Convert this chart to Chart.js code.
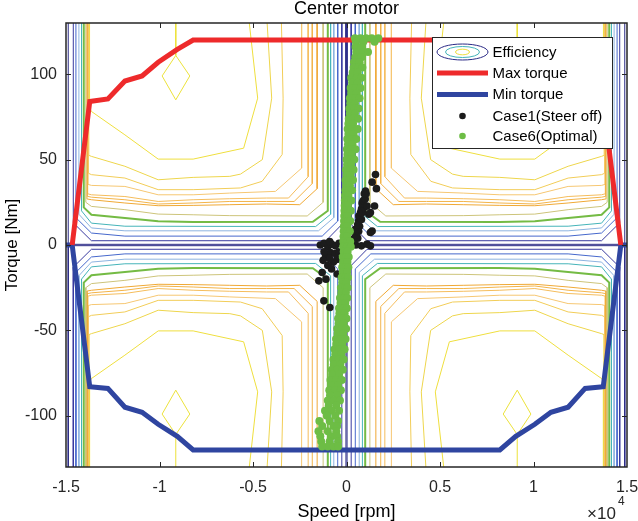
<!DOCTYPE html>
<html>
<head>
<meta charset="utf-8">
<title>Center motor</title>
<script src="https://cdn.jsdelivr.net/npm/chart.js@4.4.1/dist/chart.umd.min.js"></script>
<style>
  html, body { margin: 0; padding: 0; background: #fff; }
  canvas { display: block; }
</style>
</head>
<body>
<canvas id="motorChart" width="638" height="521"></canvas>
<script>
// axis ticks (speed in rpm, shown as x10^4)
const speedTicks = [-15000, -10000, -5000, 0, 5000, 10000, 15000];
const torqueTicks = [-100, -50, 0, 50, 100];

// torque envelope
const maxTorqueSpeed = [-14670, -13730, -12760, -11850, -10930, -10070, -9050, -8200, 8200, 9050, 10070, 10930, 11850, 12760, 13730, 14670];
const maxTorqueValue = [0, 84, 85.5, 96, 99, 107, 114.5, 120, 120, 114.5, 107, 99, 96, 85.5, 84, 0];
const minTorqueSpeed = [-15000, -14670, -13730, -12760, -11850, -10930, -10070, -9050, -8200, 8200, 9050, 10070, 10930, 11850, 12760, 13730, 14670, 15000];
const minTorqueValue = [0, 0, -83, -84, -95, -98, -105, -112, -120, -120, -112, -105, -98, -95, -84, -83, 0, 0];

// efficiency contours, upper-left quadrant [speed, torque]; the map is mirrored in the other quadrants
const effC0 = [[-30, 140], [-30, 0.4], [-14880, 0.4], [-14880, 140]];
const effC1 = [[-250, 140], [-250, 12], [-1100, 2.5], [-13640, 2.5], [-14610, 13], [-14610, 140]];
const effC2 = [[-470, 140], [-470, 14], [-1300, 5.2], [-11850, 5.2], [-13640, 7], [-14470, 16], [-14470, 140]];
const effC3 = [[-680, 140], [-680, 16], [-1500, 8.3], [-11850, 8.3], [-13640, 10], [-14310, 18], [-14310, 140]];
const effC4 = [[-850, 140], [-850, 18], [-1650, 10.8], [-11850, 11], [-13640, 12.8], [-14170, 20], [-14170, 140]];
const effC5 = [[-1000, 140], [-1000, 20], [-1800, 13.6], [-8200, 13.5], [-10070, 13.9], [-11850, 15.8], [-13640, 17.7], [-14050, 22], [-14050, 140]];
const effC6 = [[-1250, 140], [-1250, 25], [-2100, 17], [-6240, 17.2], [-8200, 17.7], [-10070, 18.1], [-11850, 20.7], [-13640, 22.6], [-13940, 25], [-13940, 140]];
const effC7 = [[-1570, 140], [-1570, 33], [-2500, 23.6], [-4280, 24], [-6240, 23.6], [-8200, 23.2], [-10070, 23], [-11850, 24.6], [-13640, 26.5], [-13880, 27], [-13880, 140]];
const effC8 = [[-1830, 140], [-1830, 36], [-2800, 25.5], [-4280, 25.5], [-6240, 25.5], [-8200, 24.6], [-10070, 24], [-11850, 26.5], [-13640, 28], [-13860, 28.5], [-13860, 140]];
const effC9 = [[-2050, 140], [-2050, 40], [-3100, 27.5], [-4280, 27.5], [-6240, 27.1], [-8200, 26.5], [-10070, 25.5], [-11850, 28.4], [-13640, 29.4], [-13840, 30], [-13840, 140]];
const effC10 = [[-2400, 140], [-2400, 45], [-3800, 31.4], [-6240, 30.4], [-8200, 29.4], [-10070, 29.4], [-11850, 34.3], [-13640, 34.9], [-13820, 35.5], [-13820, 140]];
const effC11 = [[-3500, 140], [-3390, 86], [-3440, 53], [-4510, 37.3], [-5670, 33.4], [-8200, 32.4], [-10070, 32.4], [-11850, 39.2], [-13640, 41.2], [-13800, 42], [-13800, 140]];
const effC12 = [[-4300, 140], [-4000, 86], [-4500, 50], [-5670, 41.5], [-6240, 40.2], [-8200, 39.6], [-10070, 38.2], [-11850, 46.1], [-13640, 51.9], [-13780, 52.5], [-13780, 140]];
const effC13 = [[-5300, 140], [-4750, 86], [-5500, 56.7], [-8200, 50.3], [-10070, 50.3], [-11850, 64.5], [-13640, 78.2], [-13740, 80], [-13740, 140]];
const effC14 = [[-9130, 140], [-9130, 111], [-8380, 99], [-9130, 85], [-9860, 99], [-9130, 111]];
const effContours = [effC0, effC1, effC2, effC3, effC4, effC5, effC6, effC7, effC8, effC9, effC10, effC11, effC12, effC13, effC14];
const effColors = ['#2b2a86', '#38399f', '#4668cc', '#8cb3e0', '#45b4b9', '#74bb44', '#cdc47a', '#f0a935', '#f3b449', '#f5bd5c', '#f6c772', '#f2cd58', '#eed64c', '#efdf3e', '#ece23a'];

// Case1 (steer off) operating points [speed, torque]
const case1 = [
  [-1400, 0], [-1200, 1], [-1000, -1], [-800, 0.5], [-600, -0.5], [-400, 1], [-200, 0], [0, 0.5],
  [200, 1], [500, 0], [800, -0.5], [1100, 0.5], [1280, -0.5], [-900, 2], [100, 2],
  [300, 3.3], [450, 4], [350, 2], [600, 4], [500, 6], [650, 8], [480, 9.2], [550, 9], [700, 11],
  [600, 12], [650, 14], [800, 15], [660, 17], [750, 19], [850, 19], [800, 21], [950, 22],
  [850, 24], [840, 24.8], [900, 26], [1000, 27], [950, 30], [1050, 30], [1016, 31.6],
  [1370, 36.8], [1550, 41.3], [1600, 33], [1500, 22.8], [1100, 22.8], [1190, 18], [1280, 19],
  [1370, 8.2], [1280, 7.3],
  [-1120, -6.4], [-860, -4.4], [-500, -8.4], [-1300, -16.1], [-1480, -21], [-500, -17],
  [-1210, -32.7], [-890, -36.6], [-700, -10], [-1000, -12], [-900, -8], [-1200, -4],
  [-600, -5], [-400, -4], [-1100, -20], [-800, -14], [-1250, -9]
];

// Case6 (optimal) operating points [speed, torque]
const case6 = [
  [450, 121], [750, 121], [1050, 121], [1350, 121], [1700, 121], [500, 119], [900, 119], [1500, 119],
  [480, 116], [800, 116], [520, 113], [900, 113], [1150, 113], [470, 110], [800, 110],
  [400, 107], [700, 107], [380, 104], [650, 104], [850, 104], [330, 101], [600, 101],
  [250, 98], [550, 98], [800, 98], [300, 95], [600, 95], [220, 92], [500, 92], [750, 92],
  [250, 89], [550, 89], [180, 86], [480, 86], [700, 86], [200, 83], [450, 83],
  [150, 80], [420, 80], [650, 80], [180, 77], [450, 77], [120, 74], [380, 74], [620, 74],
  [100, 71], [350, 71], [60, 68], [330, 68], [600, 68], [100, 65], [380, 65],
  [40, 62], [300, 62], [520, 62], [80, 59], [320, 59], [20, 56], [260, 56], [480, 56],
  [50, 53], [280, 53], [0, 50], [230, 50], [420, 50], [30, 47], [250, 47],
  [-30, 44], [200, 44], [380, 44], [0, 41], [220, 41], [-50, 38], [150, 38], [350, 38],
  [-20, 35], [180, 35], [-60, 32], [130, 32], [300, 32], [-80, 29], [100, 29],
  [-90, 26], [120, 26], [260, 26], [-100, 23], [80, 23], [-110, 20], [100, 20], [230, 20],
  [-120, 17], [60, 17], [-130, 14], [80, 14], [200, 14], [-140, 11], [40, 11],
  [-150, 8], [60, 8], [180, 8], [-160, 5], [30, 5], [-170, 2], [50, 2], [200, 2],
  [-180, -1], [20, -1], [230, -1], [-150, -4], [60, -4], [-200, -7], [0, -7], [120, -7],
  [-180, -10], [50, -10], [-230, -13], [-20, -13], [100, -13], [-200, -16], [30, -16],
  [-260, -19], [-50, -19], [80, -19], [-230, -22], [0, -22], [-300, -25], [-80, -25], [60, -25],
  [-280, -28], [-30, -28], [-350, -31], [-120, -31], [40, -31], [-320, -34], [-60, -34],
  [-400, -37], [-150, -37], [20, -37], [-380, -40], [-100, -40], [-450, -43], [-200, -43], [0, -43],
  [-420, -46], [-150, -46], [-500, -49], [-250, -49], [-20, -49], [-480, -52], [-180, -52],
  [-560, -55], [-300, -55], [-50, -55], [-550, -58], [-230, -58], [-640, -61], [-380, -61], [-100, -61],
  [-600, -64], [-280, -64], [-700, -67], [-430, -67], [-150, -67], [-680, -70], [-330, -70],
  [-780, -73], [-500, -73], [-200, -73], [-750, -76], [-400, -76], [-860, -79], [-560, -79], [-250, -79],
  [-820, -82], [-450, -82], [-920, -85], [-620, -85], [-300, -85], [-880, -88], [-500, -88],
  [-1000, -91], [-700, -91], [-350, -91], [-950, -94], [-550, -94], [-1150, -97], [-800, -97], [-400, -97],
  [-1050, -100], [-600, -100], [-1450, -103], [-900, -103], [-450, -103], [-1300, -106], [-700, -106], [-500, -106],
  [-1500, -109], [-1000, -109], [-550, -109], [-1400, -112], [-800, -112], [-500, -112],
  [-1350, -115], [-900, -115], [-450, -115], [-1300, -118], [-1000, -118], [-700, -118], [-450, -118]
];

const chartTitle = 'Center motor';
const legendLabels = ['Efficiency', 'Max torque', 'Min torque', 'Case1(Steer off)', 'Case6(Optimal)'];

const FONT = '"Liberation Sans", Arial, Helvetica, sans-serif';
const TEXT = '#262626';

function toPoints(pairs, sx = 1, sy = 1) {
  return pairs.map(p => ({ x: sx * p[0], y: sy * p[1] }));
}

function buildDatasets() {
  const sets = [];
  sets.push({ label: 'Case6(Optimal)', data: toPoints(case6), pointRadius: 4, pointBackgroundColor: '#6dbd45', pointBorderWidth: 0, showLine: false, order: 0 });
  sets.push({ label: 'Case1(Steer off)', data: toPoints(case1), pointRadius: 3.8, pointBackgroundColor: '#1c1c1c', pointBorderWidth: 0, showLine: false, order: 1 });
  sets.push({ label: 'Max torque', data: maxTorqueSpeed.map((s, i) => ({ x: s, y: maxTorqueValue[i] })), showLine: true, borderColor: '#ee2a2b', borderWidth: 5, pointRadius: 0, order: 2 });
  sets.push({ label: 'Min torque', data: minTorqueSpeed.map((s, i) => ({ x: s, y: minTorqueValue[i] })), showLine: true, borderColor: '#2f45a0', borderWidth: 5, pointRadius: 0, order: 3 });
  // efficiency map, mirrored into the four quadrants
  [[1, 1], [-1, 1], [1, -1], [-1, -1]].forEach(([sx, sy]) => {
    effContours.forEach((c, i) => {
      sets.push({
        label: 'Efficiency',
        data: toPoints(c, sx, sy),
        showLine: true,
        borderColor: effColors[i],
        borderWidth: i === 5 ? 2 : 1,
        pointRadius: 0,
        order: 10
      });
    });
  });
  return sets;
}

// title, frame, inward ticks, exponent label and legend
const decorations = {
  id: 'decorations',
  afterDraw(chart) {
    const { ctx, chartArea: a, scales: { x, y } } = chart;
    ctx.save();
    ctx.strokeStyle = TEXT;
    ctx.lineWidth = 1.5;
    ctx.strokeRect(a.left, a.top, a.right - a.left, a.bottom - a.top);
    ctx.lineWidth = 1;
    ctx.beginPath();
    speedTicks.slice(1, -1).forEach(v => {
      const px = Math.round(x.getPixelForValue(v)) + 0.5;
      ctx.moveTo(px, a.top); ctx.lineTo(px, a.top + 5);
      ctx.moveTo(px, a.bottom); ctx.lineTo(px, a.bottom - 5);
    });
    torqueTicks.forEach(v => {
      const py = Math.round(y.getPixelForValue(v)) + 0.5;
      ctx.moveTo(a.left, py); ctx.lineTo(a.left + 5, py);
      ctx.moveTo(a.right, py); ctx.lineTo(a.right - 5, py);
    });
    ctx.stroke();

    // title, centred over the axes box
    ctx.fillStyle = '#000';
    ctx.textAlign = 'center';
    ctx.textBaseline = 'middle';
    ctx.font = '18px ' + FONT;
    ctx.fillText(chartTitle, (a.left + a.right) / 2, 9);

    // x10^4 multiplier
    ctx.fillStyle = TEXT;
    ctx.textBaseline = 'alphabetic';
    ctx.textAlign = 'left';
    ctx.font = '17px ' + FONT;
    ctx.fillText('\u00d710', 587, 519);
    ctx.font = '12px ' + FONT;
    ctx.fillText('4', 618, 505);

    // legend box
    const bx = 432, by = 37, bw = 180, bh = 111;
    ctx.fillStyle = '#fff';
    ctx.fillRect(bx, by, bw, bh);
    ctx.strokeStyle = TEXT;
    ctx.lineWidth = 1;
    ctx.strokeRect(bx + 0.5, by + 0.5, bw, bh);
    const rows = [52, 73, 94.5, 116, 136];
    const sx0 = 437, sx1 = 488, cx = 462.5;
    // efficiency icon: nested contour ellipses
    [[25.5, 8, '#2b2a86'], [17, 5.5, '#45b4b9'], [7, 2.8, '#efdf3e']].forEach(([rx, ry, col]) => {
      ctx.strokeStyle = col;
      ctx.beginPath();
      ctx.ellipse(cx, rows[0], rx, ry, 0, 0, Math.PI * 2);
      ctx.stroke();
    });
    ctx.lineWidth = 5;
    ctx.strokeStyle = '#ee2a2b';
    ctx.beginPath(); ctx.moveTo(sx0, rows[1]); ctx.lineTo(sx1, rows[1]); ctx.stroke();
    ctx.strokeStyle = '#2f45a0';
    ctx.beginPath(); ctx.moveTo(sx0, rows[2]); ctx.lineTo(sx1, rows[2]); ctx.stroke();
    ctx.fillStyle = '#1c1c1c';
    ctx.beginPath(); ctx.arc(cx, rows[3], 3.3, 0, Math.PI * 2); ctx.fill();
    ctx.fillStyle = '#6dbd45';
    ctx.beginPath(); ctx.arc(cx, rows[4], 3.3, 0, Math.PI * 2); ctx.fill();
    ctx.fillStyle = '#000';
    ctx.font = '15px ' + FONT;
    ctx.textBaseline = 'middle';
    legendLabels.forEach((t, i) => ctx.fillText(t, 492.5, rows[i] + 0.5));
    ctx.restore();
  }
};

new Chart(document.getElementById('motorChart'), {
  type: 'scatter',
  data: { datasets: buildDatasets() },
  plugins: [decorations],
  options: {
    responsive: false,
    animation: false,
    events: [],
    layout: { padding: { top: 23, right: 11, bottom: 0, left: 0 } },
    plugins: {
      legend: { display: false },
      tooltip: { enabled: false },
      title: { display: false }
    },
    scales: {
      x: {
        type: 'linear',
        min: -15000,
        max: 15000,
        afterBuildTicks: s => { s.ticks = speedTicks.map(v => ({ value: v })); },
        afterFit: s => { s.height = 54; s.paddingLeft = 0; s.paddingRight = 0; },
        grid: { display: false, drawTicks: false },
        border: { display: false },
        ticks: {
          color: TEXT,
          font: { family: FONT, size: 16 },
          padding: 11,
          maxRotation: 0,
          autoSkip: false,
          callback: v => String(v / 10000)
        },
        title: {
          display: true,
          text: 'Speed [rpm]',
          color: '#000',
          font: { family: FONT, size: 18, lineHeight: 1 },
          padding: { top: 0, bottom: 0 }
        }
      },
      y: {
        type: 'linear',
        min: -130,
        max: 130,
        afterBuildTicks: s => { s.ticks = torqueTicks.map(v => ({ value: v })); },
        afterFit: s => { s.width = 66; s.paddingTop = 0; s.paddingBottom = 0; },
        grid: { display: false, drawTicks: false },
        border: { display: false },
        ticks: {
          color: TEXT,
          font: { family: FONT, size: 16 },
          padding: 9,
          autoSkip: false
        },
        title: {
          display: true,
          text: 'Torque [Nm]',
          color: '#000',
          font: { family: FONT, size: 17, lineHeight: 1 },
          padding: { top: 4, bottom: 0 }
        }
      }
    }
  }
});
</script>
</body>
</html>
